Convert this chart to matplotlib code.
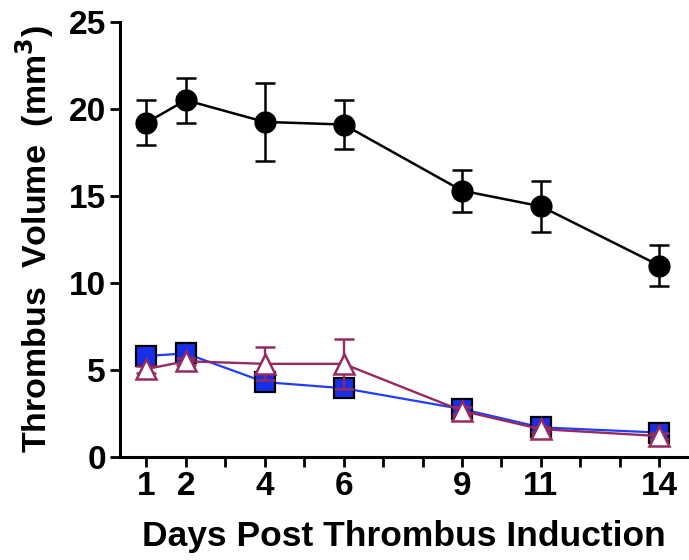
#!/usr/bin/env python3
"""Thrombus volume over days post induction, three groups with SEM bars."""

import matplotlib

matplotlib.use("Agg")
import matplotlib.pyplot as plt

days = [1, 2, 4, 6, 9, 11, 14]

# group A (black circles)
vol_a = [19.2, 20.5, 19.25, 19.1, 15.3, 14.4, 11.0]
err_a = [1.3, 1.3, 2.25, 1.4, 1.2, 1.45, 1.2]

# group B (blue squares)
vol_b = [5.8, 5.95, 4.3, 3.95, 2.75, 1.7, 1.4]
err_b = [0.2, 0.2, 0.3, 0.45, 0.2, 0.15, 0.15]

# group C (maroon open triangles)
vol_c = [5.05, 5.5, 5.35, 5.35, 2.65, 1.6, 1.2]
err_c = [0.2, 0.2, 0.95, 1.45, 0.2, 0.15, 0.15]

xtick_pos = list(range(1, 15))
xtick_labels = [str(d) if d in days else "" for d in xtick_pos]
ytick_pos = [0, 5, 10, 15, 20, 25]

plt.rcParams["font.family"] = ["Liberation Sans", "DejaVu Sans"]
plt.rcParams["font.weight"] = "bold"

fig = plt.figure(figsize=(6.89, 5.6), dpi=100)
ax = fig.add_axes([0.174, 0.184, 0.823, 0.777])

ax.errorbar(days, vol_a, yerr=err_a, color="black", lw=1.8, marker="o",
            ms=15, mfc="black", mec="black", capsize=7, elinewidth=1.8,
            capthick=1.8, zorder=3)
ax.errorbar(days, vol_b, yerr=err_b, color="#1f3cff", lw=1.6, marker="s",
            ms=14, mfc="#1530e8", mec="black", mew=1.6, capsize=5,
            elinewidth=1.4, ecolor="#b02050", capthick=1.4, zorder=4)
ax.errorbar(days, vol_c, yerr=err_c, color="#962a60", lw=1.7, marker="^",
            ms=14, mfc="white", mec="#962a60", mew=1.8, capsize=7,
            elinewidth=1.7, capthick=1.7, zorder=5)

ax.set_xlim(0.33, 14.7)
ax.set_ylim(0, 25)
ax.set_xticks(xtick_pos)
ax.set_xticklabels(xtick_labels)
ax.set_yticks(ytick_pos)

for side in ("top", "right"):
    ax.spines[side].set_visible(False)
for side in ("left", "bottom"):
    ax.spines[side].set_linewidth(2.2)
ax.tick_params(axis="both", width=2, length=7, labelsize=24, pad=3)

ax.set_xlabel("Days Post Thrombus Induction", fontsize=25.5, fontweight="bold",
              labelpad=13)
ax.set_ylabel("Thrombus  Volume  (mm$^\\mathbf{3}$)", fontsize=24.5,
              fontweight="bold", labelpad=9)

fig.savefig("out.png", dpi=100)
